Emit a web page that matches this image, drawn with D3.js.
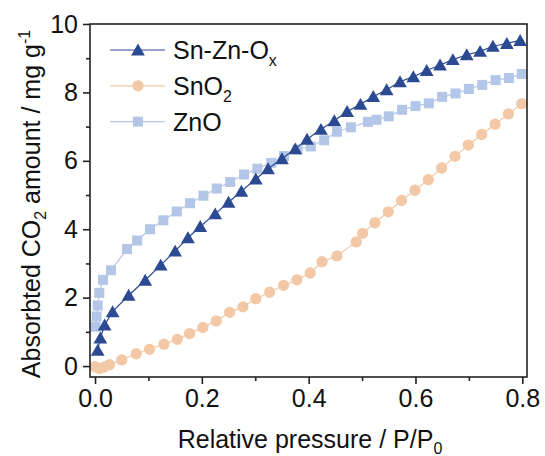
<!DOCTYPE html>
<html><head><meta charset="utf-8">
<script src="https://cdn.jsdelivr.net/npm/d3@7"></script>
<style>body{margin:0;background:#fff}svg{display:block}text{font-family:"Liberation Sans",Arial,sans-serif;fill:#111}</style>
</head><body>
<svg id="chart" width="545" height="456"></svg>
<script>
const snznX = [0.005,0.01,0.018,0.033,0.063,0.094,0.123,0.15,0.174,0.197,0.225,0.25,0.274,0.301,0.324,0.35,0.375,0.397,0.423,0.448,0.472,0.497,0.521,0.546,0.571,0.596,0.621,0.646,0.67,0.696,0.721,0.745,0.771,0.796];
const snznY = [0.46,0.82,1.2,1.59,2.07,2.51,2.95,3.36,3.75,4.08,4.45,4.79,5.11,5.47,5.77,6.06,6.35,6.63,6.92,7.17,7.44,7.65,7.88,8.08,8.31,8.46,8.64,8.8,8.96,9.1,9.2,9.35,9.43,9.52];
const sno2X = [0.0,0.008,0.017,0.027,0.05,0.077,0.102,0.129,0.154,0.177,0.202,0.227,0.252,0.277,0.301,0.327,0.353,0.378,0.403,0.425,0.453,0.489,0.501,0.524,0.549,0.574,0.599,0.624,0.649,0.674,0.699,0.724,0.749,0.774,0.799];
const sno2Y = [-0.02,-0.07,-0.03,0.04,0.18,0.36,0.49,0.64,0.78,0.95,1.13,1.32,1.57,1.73,1.97,2.16,2.36,2.52,2.72,3.05,3.22,3.63,3.88,4.19,4.51,4.84,5.14,5.45,5.79,6.13,6.46,6.77,7.07,7.37,7.67];
const znoX = [0.001,0.003,0.005,0.008,0.015,0.03,0.06,0.079,0.103,0.128,0.153,0.178,0.203,0.228,0.253,0.279,0.304,0.33,0.354,0.379,0.404,0.429,0.453,0.479,0.511,0.527,0.55,0.575,0.6,0.625,0.65,0.675,0.7,0.725,0.75,0.775,0.799];
const znoY = [1.15,1.45,1.77,2.14,2.52,2.8,3.42,3.67,4.0,4.26,4.52,4.76,4.98,5.19,5.38,5.6,5.77,5.94,6.14,6.33,6.42,6.6,6.85,6.98,7.14,7.2,7.3,7.49,7.6,7.68,7.87,7.97,8.1,8.22,8.36,8.42,8.54];
const xTicks = [0,0.2,0.4,0.6,0.8];
const xMinor = [0.1,0.3,0.5,0.7];
const yTicks = [0,2,4,6,8,10];
const yMinor = [1,3,5,7,9];
const seriesNames = ["Sn-Zn-O", "SnO", "ZnO"];
const seriesSubs = ["x", "2", ""];
const colors = ["#2c4a91", "#f2c8a6", "#b3c6e7"];

const svg = d3.select("#chart");
const L = 90, R = 527, T = 24, B = 377;
const FS = 25, SUB = 16;
const x = d3.scaleLinear().domain([-0.0094, 0.8088]).range([L, R]);
const y = d3.scaleLinear().domain([-0.32, 10]).range([B, T]);

const series = [
  {name: seriesNames[0], sub: seriesSubs[0], color: colors[0], sym: d3.symbolTriangle, size: 82, pts: snznX.map((v,i)=>[v, snznY[i]])},
  {name: seriesNames[1], sub: seriesSubs[1], color: colors[1], sym: d3.symbolCircle, size: 100, pts: sno2X.map((v,i)=>[v, sno2Y[i]])},
  {name: seriesNames[2], sub: seriesSubs[2], color: colors[2], sym: d3.symbolSquare, size: 100, pts: znoX.map((v,i)=>[v, znoY[i]])}
];

const line = d3.line().x(d=>x(d[0])).y(d=>y(d[1]));
const drawOrder = [1, 2, 0];
const plot = svg.append("g");
drawOrder.forEach(k => {
  const s = series[k];
  plot.append("path").attr("d", line(s.pts)).attr("fill","none").attr("stroke", s.color).attr("stroke-width", 1.2);
  plot.selectAll(null).data(s.pts).enter().append("path")
    .attr("d", d3.symbol().type(s.sym).size(s.size))
    .attr("transform", d => `translate(${x(d[0])},${y(d[1]) + (s.sym===d3.symbolTriangle ? 1.5 : 0)})`)
    .attr("fill", s.color);
});

// frame
svg.append("rect").attr("x", L).attr("y", T).attr("width", R-L).attr("height", B-T)
  .attr("fill","none").attr("stroke","#222").attr("stroke-width",1.6);

// axes
const xAx = svg.append("g").attr("transform", `translate(0,${B})`)
  .call(d3.axisBottom(x).tickValues(xTicks).tickSize(7).tickPadding(5).tickFormat(d3.format(".1f")));
const xMi = svg.append("g").attr("transform", `translate(0,${B})`)
  .call(d3.axisBottom(x).tickValues(xMinor).tickSize(4).tickFormat(""));
const yAx = svg.append("g").attr("transform", `translate(${L},0)`)
  .call(d3.axisLeft(y).tickValues(yTicks).tickSize(7).tickPadding(5).tickFormat(d3.format("d")));
const yMi = svg.append("g").attr("transform", `translate(${L},0)`)
  .call(d3.axisLeft(y).tickValues(yMinor).tickSize(4).tickFormat(""));
[xAx,xMi,yAx,yMi].forEach(g => {
  g.select(".domain").remove();
  g.selectAll("line").attr("stroke","#222").attr("stroke-width",1.6);
  g.selectAll("text").attr("font-size", FS).attr("font-family", '"Liberation Sans",Arial,sans-serif').attr("fill","#111");
});

// axis titles
const xt = svg.append("text").attr("x", 310).attr("y", 448).attr("text-anchor","middle").attr("font-size", FS);
xt.append("tspan").text("Relative pressure / P/P");
xt.append("tspan").attr("font-size", SUB).attr("dy", 6).text("0");

const yt = svg.append("text").attr("transform", "translate(40,204) rotate(-90)").attr("text-anchor","middle").attr("font-size", FS);
yt.append("tspan").text("Absorbted CO");
yt.append("tspan").attr("font-size", SUB).attr("dy", 6).text("2");
yt.append("tspan").attr("dy", -6).text(" amount / mg g");
yt.append("tspan").attr("font-size", SUB).attr("dy", -10).text("-1");

// legend
const lg = svg.append("g");
series.forEach((s, i) => {
  const cy = 50 + i * 35.8;
  lg.append("line").attr("x1", 110).attr("x2", 165).attr("y1", cy).attr("y2", cy).attr("stroke", s.color).attr("stroke-width", 1.2);
  lg.append("path").attr("d", d3.symbol().type(s.sym).size(s.size)).attr("transform", `translate(138,${cy + (s.sym===d3.symbolTriangle ? 1.5 : 0)})`).attr("fill", s.color);
  const t = lg.append("text").attr("x", 173).attr("y", cy + 9).attr("font-size", FS);
  t.append("tspan").text(s.name);
  if (s.sub) t.append("tspan").attr("font-size", SUB).attr("dy", 7).text(s.sub);
});
</script>
</body></html>
